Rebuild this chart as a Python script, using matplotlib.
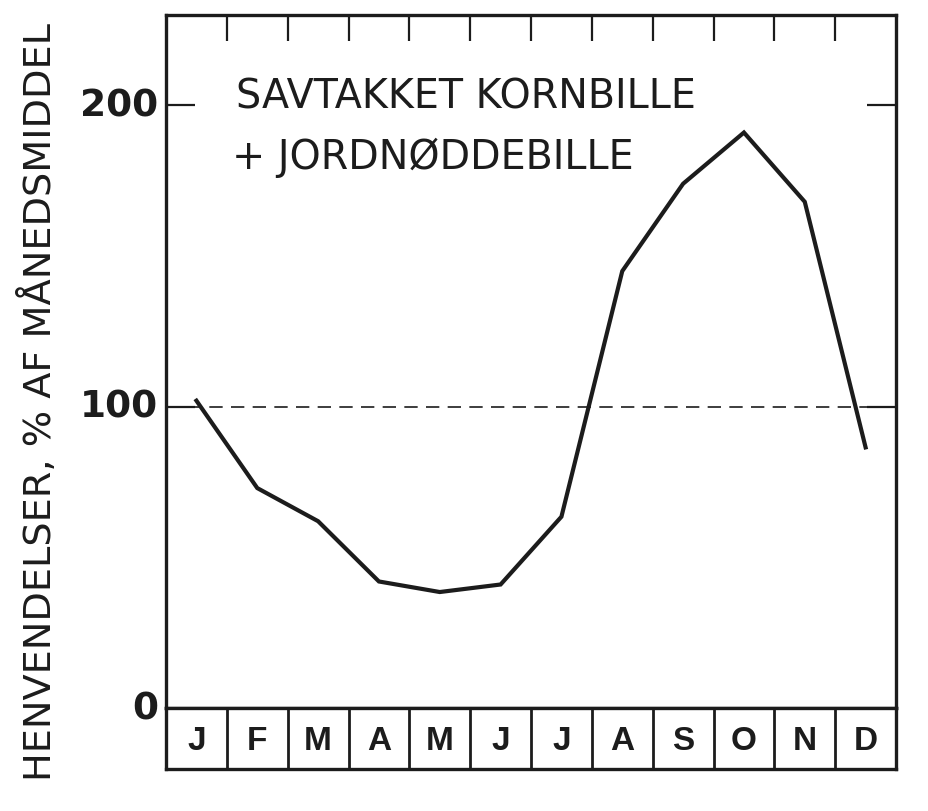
import numpy as np
import matplotlib.pyplot as plt

# Monthly values, % of monthly mean
months = ['J', 'F', 'M', 'A', 'M', 'J', 'J', 'A', 'S', 'O', 'N', 'D']
values = [102, 73, 62, 42, 38.5, 41, 63.5, 145, 174, 191, 168, 86.5]
ref_level = 100
yticks = [0, 100, 200]

title_lines = ['SAVTAKKET KORNBILLE', '+ JORDNØDDEBILLE']
ylabel = 'HENVENDELSER, % AF MÅNEDSMIDDEL'

ink = '#1c1c1c'
plt.rcParams['font.family'] = ['DejaVu Sans']

fig = plt.figure(figsize=(9.29, 8.12), dpi=100)
ax = fig.add_axes([0.1787, 0.1268, 0.7858, 0.8535])
mx = fig.add_axes([0.1787, 0.0517, 0.7858, 0.0751])

x = np.arange(len(months)) + 0.5
ax.plot(x, values, color=ink, lw=3.0, solid_joinstyle='miter')
ax.axhline(ref_level, color=ink, lw=1.2, dashes=(8, 5))

ax.set_xlim(0, 12)
ax.set_ylim(0, 230)
for s in ax.spines.values():
    s.set_linewidth(2.4)
    s.set_color(ink)

# ticks at month boundaries on top, values on both sides
ax.set_xticks(np.arange(1, 12))
ax.tick_params(axis='x', direction='in', top=True, bottom=False, labelbottom=False,
               length=19, width=1.6, color=ink)
ax.set_yticks([t for t in yticks if t > 0])
ax.tick_params(axis='y', direction='in', left=True, right=True, labelleft=False,
               length=21, width=1.6, color=ink)

# y tick labels (bold, outside)
for t in yticks:
    ax.text(-0.011, t, str(t), transform=ax.get_yaxis_transform(), ha='right', va='center',
            fontsize=27, fontweight='bold', color=ink)

ax.text(0.096, 0.866, title_lines[0], transform=ax.transAxes, fontsize=28.5, color=ink,
        ha='left', va='baseline')
ax.text(0.091, 0.779, title_lines[1], transform=ax.transAxes, fontsize=28.5, color=ink,
        ha='left', va='baseline')

fig.text(0.043, 0.505, ylabel, rotation=90, ha='center', va='center', fontsize=27.5, color=ink)

# month strip
mx.set_xlim(0, 12)
mx.set_ylim(0, 1)
mx.set_xticks([])
mx.set_yticks([])
for s in mx.spines.values():
    s.set_linewidth(2.4)
    s.set_color(ink)
for b in range(1, 12):
    mx.axvline(b, color=ink, lw=2.0)
for i, m in enumerate(months):
    mx.text(i + 0.5, 0.47, m, ha='center', va='center', fontsize=24, fontweight='bold',
            family='Liberation Sans', color=ink)

fig.savefig('out.png', dpi=100, facecolor='white')
